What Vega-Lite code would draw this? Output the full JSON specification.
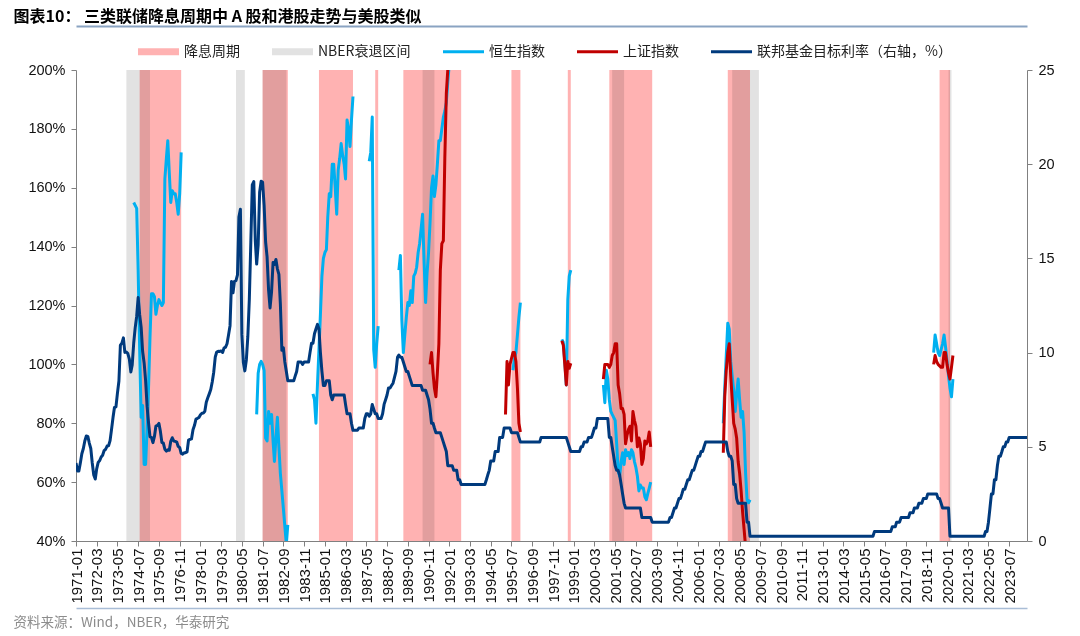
{
  "$schema": "https://vega.github.io/schema/vega-lite/v6.json",
  "width": 951,
  "height": 471,
  "autosize": "none",
  "padding": {"left": 76, "top": 70, "right": 53, "bottom": 95},
  "background": "white",
  "config": {"view": {"stroke": null}, "font": "Liberation Sans"},
  "resolve": {"scale": {"y": "independent"}, "axis": {"x": "independent"}},
  "layer": [
    {
      "data": {"values": [
        {"d": "1974-08", "e": "1976-12"}, {"d": "1981-07", "e": "1982-12"}, {"d": "1984-09", "e": "1986-08"},
        {"d": "1987-11", "e": "1988-01"}, {"d": "1989-06", "e": "1992-09"}, {"d": "1995-07", "e": "1996-01"},
        {"d": "1998-09", "e": "1998-11"}, {"d": "2001-01", "e": "2003-06"}, {"d": "2007-09", "e": "2008-12"},
        {"d": "2019-08", "e": "2020-03"}
      ], "format": {"parse": {"d": "date:'%Y-%m'", "e": "date:'%Y-%m'"}}},
      "mark": {"type": "rect"},
      "encoding": {
        "x": {"field": "d", "type": "temporal",
          "scale": {"domain": [{"year": 1971, "month": 1}, {"year": 2024, "month": 7}]},
          "axis": {
            "orient": "bottom", "title": null, "grid": false, "format": "%Y-%m", "labelAngle": -90,
            "labelOverlap": false, "labelFontSize": 15, "labelColor": "#111", "labelFont": "Liberation Sans",
            "labelPadding": 2, "tickSize": 5, "tickColor": "#808080", "domainColor": "#808080",
            "values": [
              {"year": 1971, "month": 1}, {"year": 1972, "month": 3}, {"year": 1973, "month": 5}, {"year": 1974, "month": 7},
              {"year": 1975, "month": 9}, {"year": 1976, "month": 11}, {"year": 1978, "month": 1}, {"year": 1979, "month": 3},
              {"year": 1980, "month": 5}, {"year": 1981, "month": 7}, {"year": 1982, "month": 9}, {"year": 1983, "month": 11},
              {"year": 1985, "month": 1}, {"year": 1986, "month": 3}, {"year": 1987, "month": 5}, {"year": 1988, "month": 7},
              {"year": 1989, "month": 9}, {"year": 1990, "month": 11}, {"year": 1992, "month": 1}, {"year": 1993, "month": 3},
              {"year": 1994, "month": 5}, {"year": 1995, "month": 7}, {"year": 1996, "month": 9}, {"year": 1997, "month": 11},
              {"year": 1999, "month": 1}, {"year": 2000, "month": 3}, {"year": 2001, "month": 5}, {"year": 2002, "month": 7},
              {"year": 2003, "month": 9}, {"year": 2004, "month": 11}, {"year": 2006, "month": 1}, {"year": 2007, "month": 3},
              {"year": 2008, "month": 5}, {"year": 2009, "month": 7}, {"year": 2010, "month": 9}, {"year": 2011, "month": 11},
              {"year": 2013, "month": 1}, {"year": 2014, "month": 3}, {"year": 2015, "month": 5}, {"year": 2016, "month": 7},
              {"year": 2017, "month": 9}, {"year": 2018, "month": 11}, {"year": 2020, "month": 1}, {"year": 2021, "month": 3},
              {"year": 2022, "month": 5}, {"year": 2023, "month": 7}
            ]
          }},
        "x2": {"field": "e"},
        "color": {
          "datum": "降息周期",
          "scale": {
            "domain": ["降息周期", "NBER衰退区间", "恒生指数", "上证指数", "联邦基金目标利率（右轴，%）"],
            "range": ["#FFB2B2", "#E2E2E2", "#00B0F0", "#C00000", "#003A7D"]
          },
          "legend": {
            "title": null, "orient": "none", "legendX": 62, "legendY": -39, "direction": "horizontal",
            "padding": 0, "symbolType": "M-1,-0.17H1V0.17H-1Z", "symbolSize": 1681, "symbolStrokeWidth": 0,
            "labelFont": "Noto Sans CJK SC", "labelFontSize": 14, "labelColor": "#222", "labelOffset": 5,
            "labelLimit": 400, "columnPadding": 32,
            "encode": {"symbols": {"update": {
              "shape": {"signal": "indexof(['降息周期','NBER衰退区间'], datum.value) >= 0 ? 'M-1,-0.17H1V0.17H-1Z' : 'M-1,-0.075H1V0.075H-1Z'"},
              "fill": {"scale": "color", "field": "value"},
              "stroke": {"value": "transparent"},
              "strokeWidth": {"value": 0},
              "opacity": {"value": 1}
            }}}
          }
        }
      }
    },
    {
      "data": {"values": [
        {"d": "1973-11", "e": "1975-03"}, {"d": "1980-01", "e": "1980-07"}, {"d": "1981-07", "e": "1982-11"},
        {"d": "1990-07", "e": "1991-03"}, {"d": "2001-03", "e": "2001-11"}, {"d": "2007-12", "e": "2009-06"},
        {"d": "2020-02", "e": "2020-04"}
      ], "format": {"parse": {"d": "date:'%Y-%m'", "e": "date:'%Y-%m'"}}},
      "mark": {"type": "rect", "blend": "multiply"},
      "encoding": {
        "x": {"field": "d", "type": "temporal",
          "axis": {
            "orient": "top", "offset": 44, "labels": false, "ticks": false, "grid": false,
            "domainColor": "#8AA3C2", "domainWidth": 2,
            "title": "图表10：  三类联储降息周期中 A 股和港股走势与美股类似",
            "titleX": -63, "titleY": -10, "titleAlign": "left", "titleBaseline": "middle", "titleAngle": 0,
            "titleFont": "Noto Sans CJK SC", "titleFontSize": 16, "titleFontWeight": "bold", "titleColor": "#000"
          }},
        "x2": {"field": "e"},
        "color": {"datum": "NBER衰退区间"}
      }
    },
    {
      "data": {"values": [
        {"d":"1974-04","v":155,"g":1},{"d":"1974-05","v":154,"g":1},{"d":"1974-06","v":153,"g":1},{"d":"1974-07","v":132,"g":1},
        {"d":"1974-08","v":105,"g":1},{"d":"1974-09","v":82,"g":1},{"d":"1974-10","v":86,"g":1},{"d":"1974-11","v":66,"g":1},
        {"d":"1974-12","v":66,"g":1},{"d":"1975-01","v":78,"g":1},{"d":"1975-02","v":93,"g":1},{"d":"1975-03","v":109,"g":1},
        {"d":"1975-04","v":124,"g":1},{"d":"1975-05","v":124,"g":1},{"d":"1975-06","v":123,"g":1},{"d":"1975-07","v":117,"g":1},
        {"d":"1975-08","v":120,"g":1},{"d":"1975-09","v":122,"g":1},{"d":"1975-10","v":121,"g":1},{"d":"1975-11","v":120,"g":1},
        {"d":"1975-12","v":121,"g":1},{"d":"1976-01","v":163,"g":1},{"d":"1976-02","v":170,"g":1},{"d":"1976-03","v":176,"g":1},
        {"d":"1976-04","v":165,"g":1},{"d":"1976-05","v":155,"g":1},{"d":"1976-06","v":159,"g":1},{"d":"1976-07","v":158,"g":1},
        {"d":"1976-08","v":158,"g":1},{"d":"1976-09","v":155,"g":1},{"d":"1976-10","v":151,"g":1},{"d":"1976-11","v":158,"g":1},
        {"d":"1976-12","v":172,"g":1},
        {"d":"1981-03","v":83,"g":2},{"d":"1981-04","v":97,"g":2},{"d":"1981-05","v":100,"g":2},{"d":"1981-06","v":101,"g":2},
        {"d":"1981-07","v":100,"g":2},{"d":"1981-08","v":98,"g":2},{"d":"1981-09","v":75,"g":2},{"d":"1981-10","v":74,"g":2},
        {"d":"1981-11","v":84,"g":2},{"d":"1981-12","v":80,"g":2},{"d":"1982-01","v":83,"g":2},{"d":"1982-02","v":74,"g":2},
        {"d":"1982-03","v":67,"g":2},{"d":"1982-04","v":75,"g":2},{"d":"1982-05","v":82,"g":2},{"d":"1982-06","v":72,"g":2},
        {"d":"1982-07","v":63,"g":2},{"d":"1982-08","v":57,"g":2},{"d":"1982-09","v":51,"g":2},{"d":"1982-10","v":45,"g":2},
        {"d":"1982-11","v":39,"g":2},{"d":"1982-12","v":45.5,"g":2},
        {"d":"1984-05","v":90,"g":3},{"d":"1984-06","v":88,"g":3},{"d":"1984-07","v":80,"g":3},{"d":"1984-08","v":93,"g":3},
        {"d":"1984-09","v":105,"g":3},{"d":"1984-10","v":117,"g":3},{"d":"1984-11","v":130,"g":3},{"d":"1984-12","v":136,"g":3},
        {"d":"1985-01","v":138,"g":3},{"d":"1985-02","v":139,"g":3},{"d":"1985-03","v":150,"g":3},{"d":"1985-04","v":158,"g":3},
        {"d":"1985-05","v":157,"g":3},{"d":"1985-06","v":168,"g":3},{"d":"1985-07","v":168,"g":3},{"d":"1985-08","v":160,"g":3},
        {"d":"1985-09","v":151,"g":3},{"d":"1985-10","v":166,"g":3},{"d":"1985-11","v":170,"g":3},{"d":"1985-12","v":175,"g":3},
        {"d":"1986-01","v":171,"g":3},{"d":"1986-02","v":168,"g":3},{"d":"1986-03","v":163,"g":3},{"d":"1986-04","v":183,"g":3},
        {"d":"1986-05","v":180,"g":3},{"d":"1986-06","v":174,"g":3},{"d":"1986-07","v":183,"g":3},{"d":"1986-08","v":191,"g":3},
        {"d":"1987-07","v":169,"g":4},{"d":"1987-08","v":172,"g":4},{"d":"1987-09","v":184,"g":4},{"d":"1987-10","v":105,"g":4},
        {"d":"1987-11","v":99,"g":4},{"d":"1987-12","v":107,"g":4},{"d":"1988-01","v":113,"g":4},
        {"d":"1989-03","v":132,"g":5},{"d":"1989-04","v":137,"g":5},{"d":"1989-05","v":115,"g":5},{"d":"1989-06","v":104,"g":5},
        {"d":"1989-07","v":110,"g":5},{"d":"1989-08","v":116,"g":5},{"d":"1989-09","v":121,"g":5},{"d":"1989-10","v":120,"g":5},
        {"d":"1989-11","v":125,"g":5},{"d":"1989-12","v":121,"g":5},{"d":"1990-01","v":130,"g":5},{"d":"1990-02","v":131,"g":5},
        {"d":"1990-03","v":133,"g":5},{"d":"1990-04","v":138,"g":5},{"d":"1990-05","v":141,"g":5},{"d":"1990-06","v":146,"g":5},
        {"d":"1990-07","v":151,"g":5},{"d":"1990-08","v":135,"g":5},{"d":"1990-09","v":121,"g":5},{"d":"1990-10","v":131,"g":5},
        {"d":"1990-11","v":138,"g":5},{"d":"1990-12","v":148,"g":5},{"d":"1991-01","v":160,"g":5},{"d":"1991-02","v":164,"g":5},
        {"d":"1991-03","v":157,"g":5},{"d":"1991-04","v":161,"g":5},{"d":"1991-05","v":168,"g":5},{"d":"1991-06","v":176,"g":5},
        {"d":"1991-07","v":176,"g":5},{"d":"1991-08","v":180,"g":5},{"d":"1991-09","v":184,"g":5},{"d":"1991-10","v":186,"g":5},
        {"d":"1991-11","v":189,"g":5},{"d":"1991-12","v":196,"g":5},{"d":"1992-01","v":202,"g":5},{"d":"1992-02","v":212,"g":5},
        {"d":"1995-08","v":98,"g":6},{"d":"1995-09","v":102,"g":6},{"d":"1995-10","v":104,"g":6},{"d":"1995-11","v":110,"g":6},
        {"d":"1995-12","v":116,"g":6},{"d":"1996-01","v":121,"g":6},
        {"d":"1998-05","v":108.5,"g":7},{"d":"1998-06","v":107.5,"g":7},{"d":"1998-07","v":101,"g":7},{"d":"1998-08","v":93,"g":7},
        {"d":"1998-09","v":122,"g":7},{"d":"1998-10","v":130,"g":7},{"d":"1998-11","v":132,"g":7},
        {"d":"2000-09","v":93,"g":8},{"d":"2000-10","v":87,"g":8},{"d":"2000-11","v":98,"g":8},{"d":"2000-12","v":95,"g":8},
        {"d":"2001-01","v":88,"g":8},{"d":"2001-02","v":84,"g":8},{"d":"2001-03","v":83,"g":8},{"d":"2001-04","v":82,"g":8},
        {"d":"2001-05","v":81,"g":8},{"d":"2001-06","v":73,"g":8},{"d":"2001-07","v":64,"g":8},{"d":"2001-08","v":62,"g":8},
        {"d":"2001-09","v":67,"g":8},{"d":"2001-10","v":70,"g":8},{"d":"2001-11","v":66,"g":8},{"d":"2001-12","v":71,"g":8},
        {"d":"2002-01","v":69,"g":8},{"d":"2002-02","v":70,"g":8},{"d":"2002-03","v":68,"g":8},{"d":"2002-04","v":71,"g":8},
        {"d":"2002-05","v":70,"g":8},{"d":"2002-06","v":67,"g":8},{"d":"2002-07","v":65,"g":8},{"d":"2002-08","v":62,"g":8},
        {"d":"2002-09","v":57,"g":8},{"d":"2002-10","v":59,"g":8},{"d":"2002-11","v":58,"g":8},{"d":"2002-12","v":58,"g":8},
        {"d":"2003-01","v":55,"g":8},{"d":"2003-02","v":54,"g":8},{"d":"2003-03","v":56,"g":8},{"d":"2003-04","v":58,"g":8},
        {"d":"2003-05","v":60,"g":8},
        {"d":"2007-06","v":80,"g":9},{"d":"2007-07","v":92,"g":9},{"d":"2007-08","v":103,"g":9},{"d":"2007-09","v":114,"g":9},
        {"d":"2007-10","v":112,"g":9},{"d":"2007-11","v":101,"g":9},{"d":"2007-12","v":96,"g":9},{"d":"2008-01","v":91,"g":9},
        {"d":"2008-02","v":84,"g":9},{"d":"2008-03","v":90,"g":9},{"d":"2008-04","v":95,"g":9},{"d":"2008-05","v":88,"g":9},
        {"d":"2008-06","v":82,"g":9},{"d":"2008-07","v":84,"g":9},{"d":"2008-08","v":77,"g":9},{"d":"2008-09","v":63,"g":9},
        {"d":"2008-10","v":54,"g":9},{"d":"2008-11","v":53,"g":9},{"d":"2008-12","v":54,"g":9},
        {"d":"2019-04","v":104,"g":10},{"d":"2019-05","v":110,"g":10},{"d":"2019-06","v":107,"g":10},{"d":"2019-07","v":104,"g":10},
        {"d":"2019-08","v":103,"g":10},{"d":"2019-09","v":105,"g":10},{"d":"2019-10","v":107,"g":10},{"d":"2019-11","v":110,"g":10},
        {"d":"2019-12","v":106,"g":10},{"d":"2020-01","v":101,"g":10},{"d":"2020-02","v":96,"g":10},{"d":"2020-03","v":92,"g":10},
        {"d":"2020-04","v":89,"g":10},{"d":"2020-05","v":95,"g":10}
      ], "format": {"parse": {"d": "date:'%Y-%m'"}}},
      "mark": {"type": "line", "strokeWidth": 3, "clip": true, "strokeJoin": "round"},
      "encoding": {
        "x": {"field": "d", "type": "temporal", "axis": null},
        "y": {"field": "v", "type": "quantitative", "scale": {"domain": [40, 200]},
          "axis": {"orient": "left", "title": null, "grid": false, "values": [40, 60, 80, 100, 120, 140, 160, 180, 200],
            "labelExpr": "datum.value + '%'", "labelFontSize": 14.5, "labelColor": "#111", "labelFont": "Liberation Sans",
            "labelPadding": 6, "tickSize": 5, "tickColor": "#808080", "domainColor": "#808080"}},
        "detail": {"field": "g"},
        "color": {"datum": "恒生指数"}
      }
    },
    {
      "data": {"values": [
        {"d":"1990-12","v":100,"g":1},{"d":"1991-01","v":104,"g":1},{"d":"1991-02","v":97,"g":1},{"d":"1991-03","v":92,"g":1},
        {"d":"1991-04","v":89,"g":1},{"d":"1991-05","v":97,"g":1},{"d":"1991-06","v":107,"g":1},{"d":"1991-07","v":132,"g":1},
        {"d":"1991-08","v":141,"g":1},{"d":"1991-09","v":142,"g":1},{"d":"1991-10","v":170,"g":1},{"d":"1991-11","v":192,"g":1},
        {"d":"1991-12","v":200,"g":1},{"d":"1992-01","v":215,"g":1},
        {"d":"1995-03","v":83,"g":2},{"d":"1995-04","v":101,"g":2},{"d":"1995-05","v":93,"g":2},{"d":"1995-06","v":100,"g":2},
        {"d":"1995-07","v":102,"g":2},{"d":"1995-08","v":104,"g":2},{"d":"1995-09","v":104,"g":2},{"d":"1995-10","v":101,"g":2},
        {"d":"1995-11","v":92,"g":2},{"d":"1995-12","v":80,"g":2},{"d":"1996-01","v":77,"g":2},
        {"d":"1998-05","v":108,"g":3},{"d":"1998-06","v":106.5,"g":3},{"d":"1998-07","v":100,"g":3},{"d":"1998-08","v":93,"g":3},
        {"d":"1998-09","v":101,"g":3},{"d":"1998-10","v":98.7,"g":3},{"d":"1998-11","v":100.4,"g":3},
        {"d":"2000-09","v":95,"g":4},{"d":"2000-10","v":100,"g":4},{"d":"2000-11","v":100,"g":4},{"d":"2000-12","v":100,"g":4},
        {"d":"2001-01","v":99,"g":4},{"d":"2001-02","v":100,"g":4},{"d":"2001-03","v":103,"g":4},{"d":"2001-04","v":104,"g":4},
        {"d":"2001-05","v":107,"g":4},{"d":"2001-06","v":107,"g":4},{"d":"2001-07","v":93,"g":4},{"d":"2001-08","v":90,"g":4},
        {"d":"2001-09","v":85,"g":4},{"d":"2001-10","v":85,"g":4},{"d":"2001-11","v":83,"g":4},{"d":"2001-12","v":73,"g":4},
        {"d":"2002-01","v":76,"g":4},{"d":"2002-02","v":78,"g":4},{"d":"2002-03","v":79,"g":4},{"d":"2002-04","v":74,"g":4},
        {"d":"2002-05","v":84,"g":4},{"d":"2002-06","v":81,"g":4},{"d":"2002-07","v":79,"g":4},{"d":"2002-08","v":72,"g":4},
        {"d":"2002-09","v":75,"g":4},{"d":"2002-10","v":73,"g":4},{"d":"2002-11","v":66,"g":4},{"d":"2002-12","v":68,"g":4},
        {"d":"2003-01","v":74,"g":4},{"d":"2003-02","v":73,"g":4},{"d":"2003-03","v":74,"g":4},{"d":"2003-04","v":77,"g":4},
        {"d":"2003-05","v":72,"g":4},
        {"d":"2007-06","v":70,"g":5},{"d":"2007-07","v":89,"g":5},{"d":"2007-08","v":98,"g":5},{"d":"2007-09","v":104,"g":5},
        {"d":"2007-10","v":107,"g":5},{"d":"2007-11","v":96,"g":5},{"d":"2007-12","v":88,"g":5},{"d":"2008-01","v":80,"g":5},
        {"d":"2008-02","v":78,"g":5},{"d":"2008-03","v":75,"g":5},{"d":"2008-04","v":67,"g":5},{"d":"2008-05","v":63,"g":5},
        {"d":"2008-06","v":57,"g":5},{"d":"2008-07","v":50,"g":5},{"d":"2008-08","v":44,"g":5},{"d":"2008-09","v":38,"g":5},
        {"d":"2019-04","v":100,"g":6},{"d":"2019-05","v":103,"g":6},{"d":"2019-06","v":101,"g":6},{"d":"2019-07","v":100,"g":6},
        {"d":"2019-08","v":99.5,"g":6},{"d":"2019-09","v":99,"g":6},{"d":"2019-10","v":99,"g":6},{"d":"2019-11","v":104,"g":6},
        {"d":"2019-12","v":104,"g":6},{"d":"2020-01","v":100,"g":6},{"d":"2020-02","v":97,"g":6},{"d":"2020-03","v":95,"g":6},
        {"d":"2020-04","v":99,"g":6},{"d":"2020-05","v":103,"g":6}
      ], "format": {"parse": {"d": "date:'%Y-%m'"}}},
      "mark": {"type": "line", "strokeWidth": 3, "clip": true, "strokeJoin": "round"},
      "encoding": {
        "x": {"field": "d", "type": "temporal", "axis": null},
        "y": {"field": "v", "type": "quantitative", "scale": {"domain": [40, 200]}, "axis": null},
        "detail": {"field": "g"},
        "color": {"datum": "上证指数"}
      }
    },
    {
      "data": {"values": [
        {"d":"1971-01","r":4.14},{"d":"1971-02","r":3.72},{"d":"1971-03","r":3.71},{"d":"1971-04","r":4.15},{"d":"1971-05","r":4.63},{"d":"1971-06","r":4.91},
        {"d":"1971-07","r":5.31},{"d":"1971-08","r":5.57},{"d":"1971-09","r":5.55},{"d":"1971-10","r":5.2},{"d":"1971-11","r":4.91},{"d":"1971-12","r":4.14},
        {"d":"1972-01","r":3.5},{"d":"1972-02","r":3.29},{"d":"1972-03","r":3.83},{"d":"1972-04","r":4.17},{"d":"1972-05","r":4.27},{"d":"1972-06","r":4.46},
        {"d":"1972-07","r":4.55},{"d":"1972-08","r":4.8},{"d":"1972-09","r":4.87},{"d":"1972-10","r":5.04},{"d":"1972-11","r":5.06},{"d":"1972-12","r":5.33},
        {"d":"1973-01","r":5.94},{"d":"1973-02","r":6.58},{"d":"1973-03","r":7.09},{"d":"1973-04","r":7.12},{"d":"1973-05","r":7.84},{"d":"1973-06","r":8.49},
        {"d":"1973-07","r":10.4},{"d":"1973-08","r":10.5},{"d":"1973-09","r":10.78},{"d":"1973-10","r":10.01},{"d":"1973-11","r":10.03},{"d":"1973-12","r":9.95},
        {"d":"1974-01","r":9.65},{"d":"1974-02","r":8.97},{"d":"1974-03","r":9.35},{"d":"1974-04","r":10.51},{"d":"1974-05","r":11.31},{"d":"1974-06","r":11.93},
        {"d":"1974-07","r":12.92},{"d":"1974-08","r":12.01},{"d":"1974-09","r":11.34},{"d":"1974-10","r":10.06},{"d":"1974-11","r":9.45},{"d":"1974-12","r":8.53},
        {"d":"1975-01","r":7.13},{"d":"1975-02","r":6.24},{"d":"1975-03","r":5.54},{"d":"1975-04","r":5.49},{"d":"1975-05","r":5.22},{"d":"1975-06","r":5.55},
        {"d":"1975-07","r":6.1},{"d":"1975-08","r":6.14},{"d":"1975-09","r":6.24},{"d":"1975-10","r":5.82},{"d":"1975-11","r":5.22},{"d":"1975-12","r":5.2},
        {"d":"1976-01","r":4.87},{"d":"1976-02","r":4.77},{"d":"1976-03","r":4.84},{"d":"1976-04","r":4.82},{"d":"1976-05","r":5.29},{"d":"1976-06","r":5.48},
        {"d":"1976-07","r":5.31},{"d":"1976-08","r":5.29},{"d":"1976-09","r":5.25},{"d":"1976-10","r":5.02},{"d":"1976-11","r":4.95},{"d":"1976-12","r":4.65},
        {"d":"1977-01","r":4.61},{"d":"1977-02","r":4.68},{"d":"1977-03","r":4.69},{"d":"1977-04","r":4.73},{"d":"1977-05","r":5.35},{"d":"1977-06","r":5.39},
        {"d":"1977-07","r":5.42},{"d":"1977-08","r":5.9},{"d":"1977-09","r":6.14},{"d":"1977-10","r":6.47},{"d":"1977-11","r":6.51},{"d":"1977-12","r":6.56},
        {"d":"1978-01","r":6.7},{"d":"1978-02","r":6.78},{"d":"1978-03","r":6.79},{"d":"1978-04","r":6.89},{"d":"1978-05","r":7.36},{"d":"1978-06","r":7.6},
        {"d":"1978-07","r":7.81},{"d":"1978-08","r":8.04},{"d":"1978-09","r":8.45},{"d":"1978-10","r":8.96},{"d":"1978-11","r":9.76},{"d":"1978-12","r":10.03},
        {"d":"1979-01","r":10.07},{"d":"1979-02","r":10.06},{"d":"1979-03","r":10.09},{"d":"1979-04","r":10.01},{"d":"1979-05","r":10.24},{"d":"1979-06","r":10.29},
        {"d":"1979-07","r":10.47},{"d":"1979-08","r":10.94},{"d":"1979-09","r":11.43},{"d":"1979-10","r":13.77},{"d":"1979-11","r":13.18},{"d":"1979-12","r":13.78},
        {"d":"1980-01","r":13.82},{"d":"1980-02","r":14.13},{"d":"1980-03","r":17.19},{"d":"1980-04","r":17.61},{"d":"1980-05","r":10.98},{"d":"1980-06","r":9.47},
        {"d":"1980-07","r":9.03},{"d":"1980-08","r":9.61},{"d":"1980-09","r":10.87},{"d":"1980-10","r":12.81},{"d":"1980-11","r":15.85},{"d":"1980-12","r":18.9},
        {"d":"1981-01","r":19.08},{"d":"1981-02","r":15.93},{"d":"1981-03","r":14.7},{"d":"1981-04","r":15.72},{"d":"1981-05","r":18.52},{"d":"1981-06","r":19.1},
        {"d":"1981-07","r":19.04},{"d":"1981-08","r":17.82},{"d":"1981-09","r":15.87},{"d":"1981-10","r":15.08},{"d":"1981-11","r":13.31},{"d":"1981-12","r":12.37},
        {"d":"1982-01","r":13.22},{"d":"1982-02","r":14.78},{"d":"1982-03","r":14.68},{"d":"1982-04","r":14.94},{"d":"1982-05","r":14.45},{"d":"1982-06","r":14.15},
        {"d":"1982-07","r":12.59},{"d":"1982-08","r":10.12},
        {"d":"1982-09","r":10.25},{"d":"1982-10","r":9.5},{"d":"1982-11","r":9.0},{"d":"1982-12","r":8.5},{"d":"1983-04","r":8.5},{"d":"1983-05","r":8.75},
        {"d":"1983-06","r":9.0},{"d":"1983-07","r":9.5},{"d":"1983-09","r":9.5},{"d":"1983-10","r":9.375},{"d":"1983-11","r":9.5},{"d":"1984-02","r":9.5},
        {"d":"1984-03","r":10.0},{"d":"1984-04","r":10.5},{"d":"1984-05","r":10.5},{"d":"1984-06","r":11.0},{"d":"1984-07","r":11.25},{"d":"1984-08","r":11.5},
        {"d":"1984-09","r":11.25},{"d":"1984-10","r":10.0},{"d":"1984-11","r":9.0},{"d":"1984-12","r":8.25},{"d":"1985-01","r":8.25},{"d":"1985-02","r":8.5},
        {"d":"1985-04","r":8.5},{"d":"1985-05","r":7.75},{"d":"1985-06","r":7.5},{"d":"1985-07","r":7.75},{"d":"1986-02","r":7.75},{"d":"1986-03","r":7.25},
        {"d":"1986-04","r":6.75},{"d":"1986-06","r":6.75},{"d":"1986-07","r":6.25},{"d":"1986-08","r":5.875},{"d":"1986-11","r":5.875},{"d":"1986-12","r":6.0},
        {"d":"1987-03","r":6.0},{"d":"1987-04","r":6.5},{"d":"1987-05","r":6.75},{"d":"1987-06","r":6.75},{"d":"1987-07","r":6.625},{"d":"1987-08","r":6.75},
        {"d":"1987-09","r":7.25},{"d":"1987-10","r":7.0},{"d":"1987-11","r":6.75},{"d":"1987-12","r":6.75},{"d":"1988-01","r":6.5},{"d":"1988-03","r":6.5},
        {"d":"1988-04","r":6.75},{"d":"1988-05","r":7.25},{"d":"1988-06","r":7.5},{"d":"1988-07","r":7.75},{"d":"1988-08","r":8.125},{"d":"1988-09","r":8.125},
        {"d":"1988-10","r":8.25},{"d":"1988-11","r":8.375},{"d":"1988-12","r":8.6875},{"d":"1989-01","r":9.0},{"d":"1989-02","r":9.75},{"d":"1989-03","r":9.875},
        {"d":"1989-04","r":9.75},{"d":"1989-05","r":9.75},{"d":"1989-06","r":9.5},{"d":"1989-07","r":9.25},{"d":"1989-08","r":9.0},{"d":"1989-09","r":9.0},
        {"d":"1989-10","r":8.75},{"d":"1989-11","r":8.5},{"d":"1989-12","r":8.25},{"d":"1990-06","r":8.25},{"d":"1990-07","r":8.0},{"d":"1990-09","r":8.0},
        {"d":"1990-10","r":7.75},{"d":"1990-11","r":7.5},{"d":"1990-12","r":7.0},{"d":"1991-01","r":6.25},{"d":"1991-02","r":6.25},{"d":"1991-03","r":6.0},
        {"d":"1991-04","r":5.75},{"d":"1991-07","r":5.75},{"d":"1991-08","r":5.5},{"d":"1991-09","r":5.25},{"d":"1991-10","r":5.0},{"d":"1991-11","r":4.75},
        {"d":"1991-12","r":4.0},{"d":"1992-03","r":4.0},{"d":"1992-04","r":3.75},{"d":"1992-06","r":3.75},{"d":"1992-07","r":3.25},{"d":"1992-08","r":3.25},
        {"d":"1992-09","r":3.0},{"d":"1994-01","r":3.0},{"d":"1994-02","r":3.25},{"d":"1994-03","r":3.5},{"d":"1994-04","r":3.75},{"d":"1994-05","r":4.25},
        {"d":"1994-07","r":4.25},{"d":"1994-08","r":4.75},{"d":"1994-10","r":4.75},{"d":"1994-11","r":5.5},{"d":"1995-01","r":5.5},{"d":"1995-02","r":6.0},
        {"d":"1995-06","r":6.0},{"d":"1995-07","r":5.75},{"d":"1995-11","r":5.75},{"d":"1995-12","r":5.5},{"d":"1996-01","r":5.25},{"d":"1997-02","r":5.25},
        {"d":"1997-03","r":5.5},{"d":"1998-08","r":5.5},{"d":"1998-09","r":5.25},{"d":"1998-10","r":5.0},{"d":"1998-11","r":4.75},{"d":"1999-05","r":4.75},
        {"d":"1999-06","r":5.0},{"d":"1999-07","r":5.0},{"d":"1999-08","r":5.25},{"d":"1999-10","r":5.25},{"d":"1999-11","r":5.5},{"d":"2000-01","r":5.5},
        {"d":"2000-02","r":5.75},{"d":"2000-03","r":6.0},{"d":"2000-04","r":6.0},{"d":"2000-05","r":6.5},{"d":"2000-12","r":6.5},{"d":"2001-01","r":5.5},
        {"d":"2001-02","r":5.5},{"d":"2001-03","r":5.0},{"d":"2001-04","r":4.5},{"d":"2001-05","r":4.0},{"d":"2001-06","r":3.75},{"d":"2001-07","r":3.75},
        {"d":"2001-08","r":3.5},{"d":"2001-09","r":3.0},{"d":"2001-10","r":2.5},{"d":"2001-11","r":2.0},{"d":"2001-12","r":1.75},{"d":"2002-10","r":1.75},
        {"d":"2002-11","r":1.25},{"d":"2003-05","r":1.25},{"d":"2003-06","r":1.0},{"d":"2004-05","r":1.0},{"d":"2004-06","r":1.25},{"d":"2004-07","r":1.25},
        {"d":"2004-08","r":1.5},{"d":"2004-09","r":1.75},{"d":"2004-10","r":1.75},{"d":"2004-11","r":2.0},{"d":"2004-12","r":2.25},{"d":"2005-01","r":2.25},
        {"d":"2005-02","r":2.5},{"d":"2005-03","r":2.75},{"d":"2005-04","r":2.75},{"d":"2005-05","r":3.0},{"d":"2005-06","r":3.25},{"d":"2005-07","r":3.25},
        {"d":"2005-08","r":3.5},{"d":"2005-09","r":3.75},{"d":"2005-10","r":3.75},{"d":"2005-11","r":4.0},{"d":"2005-12","r":4.25},{"d":"2006-01","r":4.5},
        {"d":"2006-02","r":4.5},{"d":"2006-03","r":4.75},{"d":"2006-04","r":4.75},{"d":"2006-05","r":5.0},{"d":"2006-06","r":5.25},{"d":"2007-08","r":5.25},
        {"d":"2007-09","r":4.75},{"d":"2007-10","r":4.5},{"d":"2007-11","r":4.5},{"d":"2007-12","r":4.25},{"d":"2008-01","r":3.0},{"d":"2008-02","r":3.0},
        {"d":"2008-03","r":2.25},{"d":"2008-04","r":2.0},{"d":"2008-09","r":2.0},{"d":"2008-10","r":1.0},{"d":"2008-11","r":1.0},{"d":"2008-12","r":0.25},
        {"d":"2015-11","r":0.25},{"d":"2015-12","r":0.5},{"d":"2016-11","r":0.5},{"d":"2016-12","r":0.75},{"d":"2017-02","r":0.75},{"d":"2017-03","r":1.0},
        {"d":"2017-05","r":1.0},{"d":"2017-06","r":1.25},{"d":"2017-11","r":1.25},{"d":"2017-12","r":1.5},{"d":"2018-02","r":1.5},{"d":"2018-03","r":1.75},
        {"d":"2018-05","r":1.75},{"d":"2018-06","r":2.0},{"d":"2018-08","r":2.0},{"d":"2018-09","r":2.25},{"d":"2018-11","r":2.25},{"d":"2018-12","r":2.5},
        {"d":"2019-06","r":2.5},{"d":"2019-07","r":2.25},{"d":"2019-08","r":2.25},{"d":"2019-09","r":2.0},{"d":"2019-10","r":1.75},{"d":"2020-02","r":1.75},
        {"d":"2020-03","r":0.25},{"d":"2022-02","r":0.25},{"d":"2022-03","r":0.5},{"d":"2022-04","r":0.5},{"d":"2022-05","r":1.0},{"d":"2022-06","r":1.75},
        {"d":"2022-07","r":2.5},{"d":"2022-08","r":2.5},{"d":"2022-09","r":3.25},{"d":"2022-10","r":3.25},{"d":"2022-11","r":4.0},{"d":"2022-12","r":4.5},
        {"d":"2023-01","r":4.5},{"d":"2023-02","r":4.75},{"d":"2023-03","r":5.0},{"d":"2023-04","r":5.0},{"d":"2023-05","r":5.25},{"d":"2023-06","r":5.25},
        {"d":"2023-07","r":5.5},{"d":"2024-07","r":5.5}
      ], "format": {"parse": {"d": "date:'%Y-%m'"}}},
      "mark": {"type": "line", "strokeWidth": 3, "clip": true, "strokeJoin": "round"},
      "encoding": {
        "x": {"field": "d", "type": "temporal",
          "axis": {
            "orient": "bottom", "offset": 67, "labels": false, "ticks": false, "grid": false,
            "domainColor": "#A9BDD6", "domainWidth": 1.5,
            "title": "资料来源：Wind，NBER，华泰研究",
            "titleX": -63, "titleY": 14, "titleAlign": "left", "titleBaseline": "middle", "titleAngle": 0,
            "titleFont": "Noto Sans CJK SC", "titleFontSize": 13.5, "titleFontWeight": "normal", "titleColor": "#8C8C8C"
          }},
        "y": {"field": "r", "type": "quantitative", "scale": {"domain": [0, 25]},
          "axis": {"orient": "right", "title": null, "grid": false, "values": [0, 5, 10, 15, 20, 25],
            "labelFontSize": 14.5, "labelColor": "#111", "labelFont": "Liberation Sans",
            "labelPadding": 6, "tickSize": 5, "tickColor": "#808080", "domainColor": "#808080"}},
        "color": {"datum": "联邦基金目标利率（右轴，%）"}
      }
    }
  ]
}
